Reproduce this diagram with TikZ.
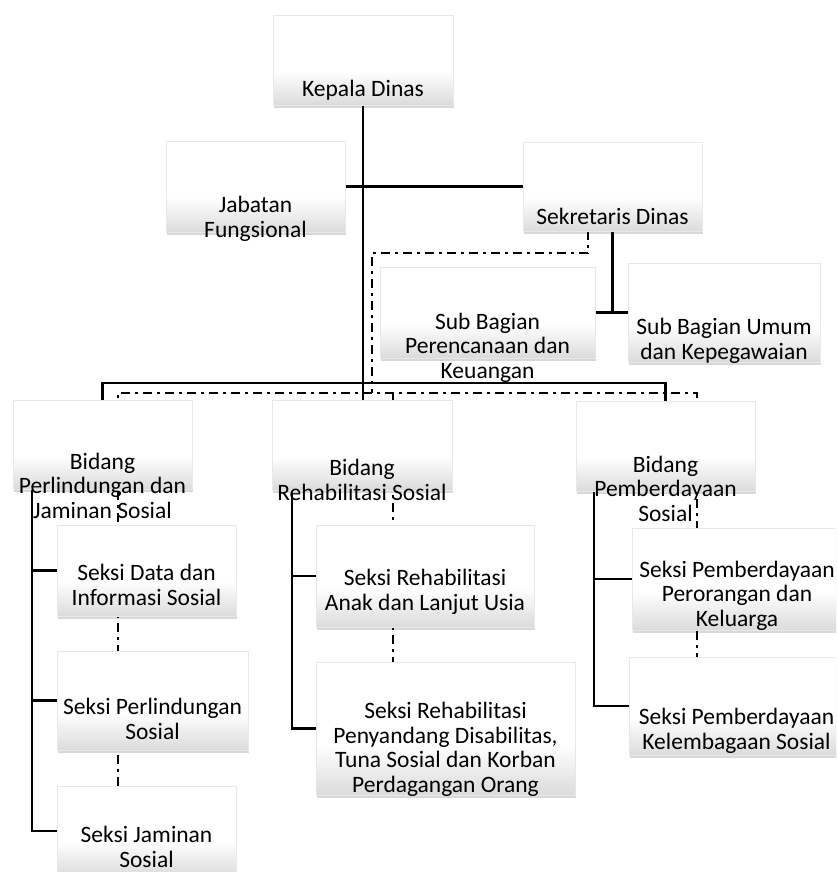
\documentclass[tikz,border=0pt]{standalone}
\usepackage{fontspec}
\setmainfont{Carlito}
\usetikzlibrary{shadows}
\pgfdeclarelayer{lines}
\pgfsetlayers{lines,main}
\colorlet{boxfoot}{black!14}
\pgfdeclareverticalshading{orgshade}{100bp}{color(0bp)=(boxfoot); color(25bp)=(boxfoot); color(44bp)=(white); color(100bp)=(white)}
\tikzset{
  orgbox/.style={shade, shading=orgshade, draw=black!9, line width=0.6pt,
    inner sep=0pt, outer sep=0pt,
    drop shadow={shadow xshift=0.8pt, shadow yshift=-2.8pt, opacity=0.22, fill=black!70}},
  % anchor=base sits on the baseline of the last line
  orgtext/.style={align=center, anchor=base, inner sep=0pt,
    font=\fontsize{23.5}{24.5}\selectfont},
  link/.style={line width=2.4pt},
  coord/.style={line width=2.7pt, dash pattern=on 9pt off 5pt on 3pt off 5pt},
}
\begin{document}
\begin{tikzpicture}[x=1pt, y=-1pt]
\useasboundingbox (0,0) rectangle (836,872);
\clip (0,0) rectangle (836,872);

% boxes
\node[orgbox, minimum width=180pt, minimum height=90pt] (kd)  at (363,60)      {};
\node[orgbox, minimum width=179pt, minimum height=91pt] (jf)  at (255.5,186.5) {};
\node[orgbox, minimum width=179pt, minimum height=89pt] (sd)  at (612.5,186.5) {};
\node[orgbox, minimum width=215pt, minimum height=91pt] (sbp) at (487.5,312.5) {};
\node[orgbox, minimum width=192pt, minimum height=99pt] (sbu) at (724,312.5)   {};
\node[orgbox, minimum width=179pt, minimum height=89pt] (bpl) at (102.5,444.5) {};
\node[orgbox, minimum width=180pt, minimum height=90pt] (bpr) at (362,445)     {};
\node[orgbox, minimum width=179pt, minimum height=90pt] (bpm) at (665.5,446)   {};
\node[orgbox, minimum width=179pt, minimum height=91pt] (sdi) at (146.5,570.5) {};
\node[orgbox, minimum width=191pt, minimum height=99pt] (spl) at (152.5,700.5) {};
\node[orgbox, minimum width=179pt, minimum height=90pt] (sjs) at (146.5,831)   {};
\node[orgbox, minimum width=218pt, minimum height=102pt] (sra) at (425,576)    {};
\node[orgbox, minimum width=259pt, minimum height=133pt] (srp) at (445.5,728.5) {};
\node[orgbox, minimum width=210pt, minimum height=102pt] (spk) at (737,579)    {};
\node[orgbox, minimum width=215pt, minimum height=98pt] (skl) at (736.5,706)   {};

% labels
\node[orgtext] (kdt)  at (kd.center  |- 0,97)  {Kepala Dinas};
\node[orgtext] (jft)  at (jf.center  |- 0,237) {Jabatan\\Fungsional};
\node[orgtext] (sdt)  at (sd.center  |- 0,224) {Sekretaris Dinas};
\node[orgtext] (sbpt) at (sbp.center |- 0,378) {Sub Bagian\\Perencanaan dan\\Keuangan};
\node[orgtext] (sbut) at (sbu.center |- 0,359) {Sub Bagian Umum\\dan Kepegawaian};
\node[orgtext] (bplt) at (bpl.center |- 0,518) {Bidang\\Perlindungan dan\\Jaminan Sosial};
\node[orgtext] (bprt) at (bpr.center |- 0,500) {Bidang\\Rehabilitasi Sosial};
\node[orgtext] (bpmt) at (bpm.center |- 0,521) {Bidang\\Pemberdayaan\\Sosial};
\node[orgtext] (sdit) at (sdi.center |- 0,605) {Seksi Data dan\\Informasi Sosial};
\node[orgtext] (splt) at (spl.center |- 0,739) {Seksi Perlindungan\\Sosial};
\node[orgtext] (sjst) at (sjs.center |- 0,867) {Seksi Jaminan\\Sosial};
\node[orgtext] (srat) at (sra.center |- 0,610) {Seksi Rehabilitasi\\Anak dan Lanjut Usia};
\node[orgtext] (srpt) at (srp.center |- 0,792) {Seksi Rehabilitasi\\Penyandang Disabilitas,\\Tuna Sosial dan Korban\\Perdagangan Orang};
\node[orgtext] (spkt) at (spk.center |- 0,626) {Seksi Pemberdayaan\\Perorangan dan\\Keluarga};
\node[orgtext] (sklt) at (skl.center |- 0,749) {Seksi Pemberdayaan\\Kelembagaan Sosial};

% helper coordinates
\coordinate (bar)   at (0,383);
\coordinate (ddtop) at (372,253);
\coordinate (ddL)   at (118,393);
\coordinate (ddM)   at (393,393);
\coordinate (ddR)   at (697,393);
\coordinate (brL)   at (32,0);
\coordinate (brM)   at (292,0);
\coordinate (brR)   at (594,0);

\begin{pgfonlayer}{lines}
  % command lines
  \draw[link] (kd.south) -- (kd.south |- bpr.north);
  \draw[link] (jf.east) -- (sd.west);
  \draw[link] (bpl.north) -- (bpl.north |- bar) -- (bpm.north |- bar) -- (bpm.north);
  \draw[link] (sd.south) -- (sd.south |- sbp.east);
  \draw[link] (sbp.east) -- (sbu.west);
  % section brackets
  \draw[link] (brL |- bpl.south) |- (sjs.west);
  \draw[link] (brL |- sdi.west) -- (sdi.west);
  \draw[link] (brL |- spl.west) -- (spl.west);
  \draw[link] (brM |- bpr.south) |- (srp.west);
  \draw[link] (brM |- sra.west) -- (sra.west);
  \draw[link] (brR |- bpm.south) |- (skl.west);
  \draw[link] (brR |- spk.west) -- (spk.west);
  % coordination lines
  \draw[coord] ([xshift=-24.5pt]sd.south) |- (ddtop) -- (ddtop |- ddL);
  \draw[coord] (ddL |- sjs.north) -- (ddL) -- (ddR) -- (ddR |- skl.north);
  \draw[coord] (ddM) -- (ddM |- srp.north);
\end{pgfonlayer}
\end{tikzpicture}
\end{document}
